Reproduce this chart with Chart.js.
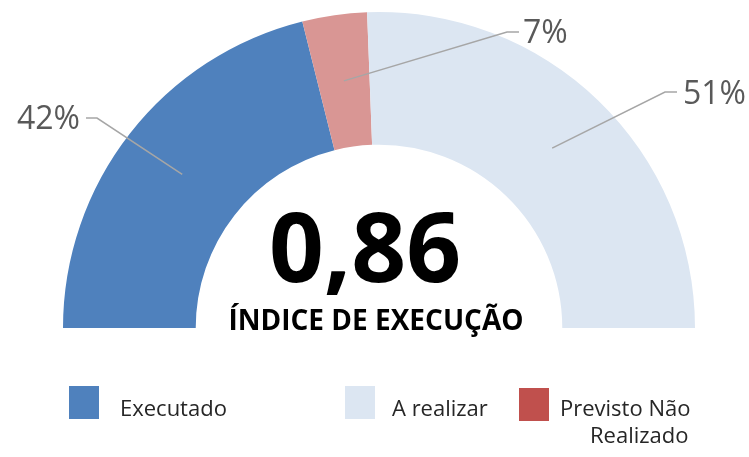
<!DOCTYPE html>
<html>
<head>
<meta charset="utf-8">
<script src="https://cdn.jsdelivr.net/npm/chart.js@4"></script>
<style>
  html, body { margin: 0; padding: 0; background: #fff; }
  #wrap { position: relative; width: 749px; height: 457px; overflow: hidden; }
  #c { position: absolute; left: 0; top: 0; }
  .lg { position: absolute; font-family: "Open Sans", sans-serif; font-size: 22px; color: #262626; white-space: nowrap; line-height: 1; }
  .sw { position: absolute; width: 30px; height: 33px; }
</style>
</head>
<body>
<div id="wrap">
  <canvas id="c" width="749" height="457"></canvas>
  <div id="legend"></div>
</div>
<script>
// ---- data ----
const categories = ['Executado', 'Previsto Não Realizado', 'A realizar'];
const values = [42.2, 6.6, 51.2];
const percentLabels = ['42%', '7%', '51%'];
const legendOrder = ['Executado', 'A realizar', 'Previsto Não Realizado'];
const indexValue = 0.86;
const indexTitle = 'ÍNDICE DE EXECUÇÃO';

// ---- styles ----
const sliceColors = ['#4f81bd', '#d99694', '#dce6f2'];
const legendColors = { 'Executado': '#4f81bd', 'A realizar': '#dce6f2', 'Previsto Não Realizado': '#c0504d' };
// label layout offsets relative to chart centre (elbow, end, text anchor)
const labelLayout = [
  { elbow: [-282, -210], end: [-293, -210], text: [-299, -208], align: 'right' },
  { elbow: [128, -296], end: [140, -296], text: [144, -294], align: 'left' },
  { elbow: [286, -236], end: [298, -236], text: [304, -233], align: 'left' }
];

const labelPlugin = {
  id: 'labels',
  afterDatasetsDraw(chart) {
    const ctx = chart.ctx;
    const meta = chart.getDatasetMeta(0);
    meta.data.forEach((arc, i) => {
      const p = arc.tooltipPosition();
      const cx = arc.x, cy = arc.y;
      const L = labelLayout[i];
      ctx.save();
      ctx.strokeStyle = '#a6a6a6';
      ctx.lineWidth = 1.5;
      ctx.beginPath();
      ctx.moveTo(p.x, p.y);
      ctx.lineTo(cx + L.elbow[0], cy + L.elbow[1]);
      ctx.lineTo(cx + L.end[0], cy + L.end[1]);
      ctx.stroke();
      ctx.fillStyle = '#595959';
      ctx.font = '32px "Open Sans", sans-serif';
      ctx.textAlign = L.align;
      ctx.textBaseline = 'middle';
      ctx.fillText(percentLabels[i], cx + L.text[0], cy + L.text[1]);
      ctx.restore();
    });
    // centre text
    const arc0 = meta.data[0];
    const cx = arc0.x, cy = arc0.y;
    ctx.save();
    ctx.fillStyle = '#000';
    ctx.textBaseline = 'alphabetic';
    ctx.textAlign = 'center';
    ctx.font = 'bold 96px "Open Sans", sans-serif';
    ctx.fillText(indexValue.toFixed(2).replace('.', ','), cx - 14, cy - 46);
    ctx.font = 'bold 28px "Open Sans", sans-serif';
    ctx.fillText(indexTitle, cx - 3, cy + 2);
    ctx.restore();
  }
};

new Chart(document.getElementById('c'), {
  type: 'doughnut',
  data: {
    labels: categories,
    datasets: [{ data: values, backgroundColor: sliceColors, borderWidth: 0, hoverOffset: 0 }]
  },
  options: {
    responsive: false,
    animation: false,
    rotation: -90,
    circumference: 180,
    cutout: '58%',
    layout: { padding: { left: 63, right: 54, top: 12, bottom: 129 } },
    plugins: { legend: { display: false }, tooltip: { enabled: false } }
  },
  plugins: [labelPlugin]
});

// ---- legend (HTML) ----
const legendPos = {
  'Executado': { sw: [69, 386], tx: [120, 396] },
  'A realizar': { sw: [345, 386], tx: [392, 396] },
  'Previsto Não Realizado': { sw: [519, 388], tx: [560, 396] }
};
const lg = document.getElementById('legend');
legendOrder.forEach(name => {
  const pos = legendPos[name];
  const sw = document.createElement('div');
  sw.className = 'sw';
  sw.style.left = pos.sw[0] + 'px';
  sw.style.top = pos.sw[1] + 'px';
  sw.style.background = legendColors[name];
  lg.appendChild(sw);
  if (name === 'Previsto Não Realizado') {
    const t1 = document.createElement('div');
    t1.className = 'lg';
    t1.style.left = pos.tx[0] + 'px';
    t1.style.top = pos.tx[1] + 'px';
    t1.textContent = 'Previsto Não';
    lg.appendChild(t1);
    const t2 = document.createElement('div');
    t2.className = 'lg';
    t2.style.left = '590px';
    t2.style.top = (pos.tx[1] + 27) + 'px';
    t2.textContent = 'Realizado';
    lg.appendChild(t2);
  } else {
    const t = document.createElement('div');
    t.className = 'lg';
    t.style.left = pos.tx[0] + 'px';
    t.style.top = pos.tx[1] + 'px';
    t.textContent = name;
    lg.appendChild(t);
  }
});
</script>
</body>
</html>
